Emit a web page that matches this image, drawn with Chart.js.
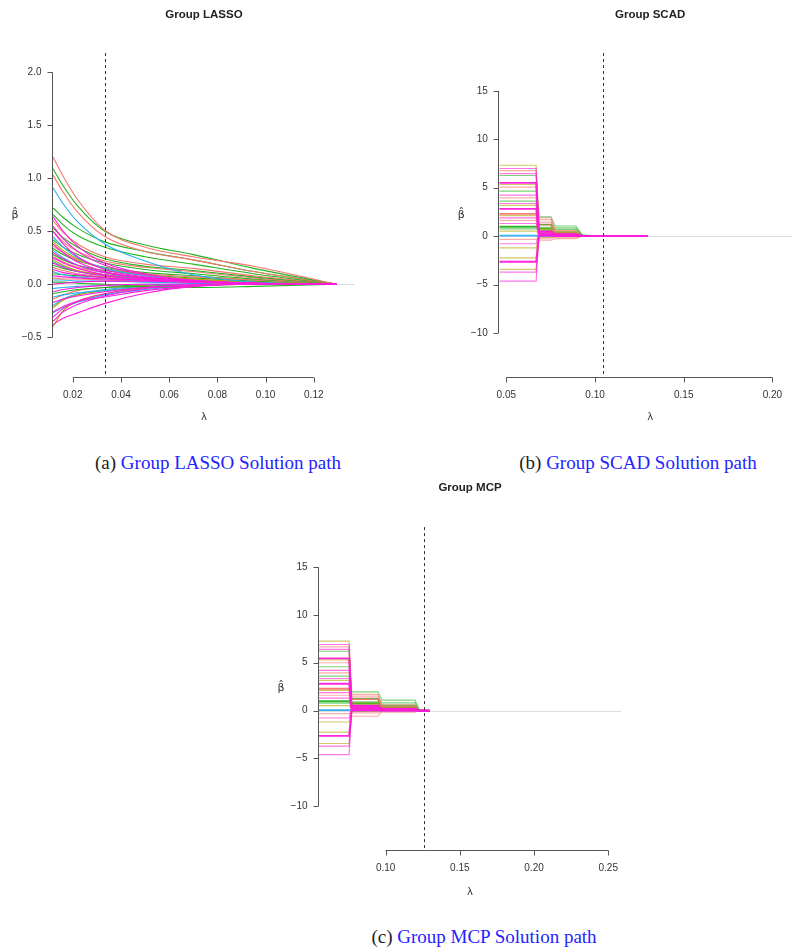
<!DOCTYPE html>
<html>
<head>
<meta charset="utf-8">
<script src="https://cdn.jsdelivr.net/npm/chart.js@4.4.1/dist/chart.umd.min.js"></script>
<style>
  body { margin: 0; background: #fff; width: 792px; height: 952px; position: relative; overflow: hidden; }
  .panel { position: absolute; overflow: hidden; }
  .cap { position: absolute; width: 320px; text-align: center; white-space: nowrap;
         font-family: 'Liberation Serif', 'DejaVu Serif', serif; font-size: 19px; line-height: 22px; color: #2323ff; }
  .cap span { color: #222; }
</style>
</head>
<body>
<div class="panel" style="left:0;top:0;width:396px;height:440px"><canvas id="lasso" width="396" height="440"></canvas></div>
<div class="panel" style="left:396px;top:0;width:396px;height:440px"><canvas id="scad" width="405" height="440"></canvas></div>
<div class="panel" style="left:230px;top:475px;width:420px;height:440px"><canvas id="mcp" width="420" height="440"></canvas></div>
<div class="cap" style="left:58px;top:452px"><span>(a)</span> Group LASSO Solution path</div>
<div class="cap" style="left:478px;top:452px"><span>(b)</span> Group SCAD Solution path</div>
<div class="cap" style="left:324px;top:926px"><span>(c)</span> Group MCP Solution path</div>
<script>
// line colours by group, upper case = strong line, lower case = faint line
var palette = { R: '#F8766D', O: '#B3A300', G: '#22B422', B: '#2AAEF2', M: '#FF1ADB' };

// ---- Group LASSO: coefficient values at these lambdas
var lassoLambda = [0.0118, 0.016, 0.022, 0.0333, 0.05, 0.07, 0.095, 0.1293];
var lassoPaths = [
  [1.20, 1.02, 0.80, 0.51, 0.35, 0.26, 0.17, 0],
  [1.09, 0.93, 0.74, 0.50, 0.37, 0.28, 0.15, 0],
  [1.03, 0.87, 0.68, 0.45, 0.31, 0.23, 0.12, 0],
  [0.91, 0.76, 0.59, 0.38, 0.22, 0.09, 0.02, 0],
  [0.72, 0.63, 0.53, 0.40, 0.31, 0.23, 0.12, 0],
  [0.66, 0.56, 0.46, 0.35, 0.26, 0.19, 0.10, 0],
  [0.60, 0.49, 0.38, 0.26, 0.19, 0.15, 0.08, 0],
  [0.64, 0.50, 0.36, 0.20, 0.10, 0.04, 0.01, 0],
  [0.55, 0.43, 0.31, 0.18, 0.09, 0.03, 0.01, 0],
  [0.53, 0.44, 0.35, 0.24, 0.17, 0.13, 0.07, 0],
  [0.50, 0.40, 0.31, 0.22, 0.16, 0.12, 0.06, 0],
  [0.50, 0.38, 0.26, 0.14, 0.07, 0.03, 0.01, 0],
  [0.45, 0.35, 0.25, 0.15, 0.08, 0.03, 0.01, 0],
  [0.42, 0.35, 0.28, 0.20, 0.14, 0.10, 0.05, 0],
  [0.40, 0.32, 0.24, 0.15, 0.09, 0.05, 0.02, 0],
  [0.38, 0.30, 0.21, 0.12, 0.06, 0.03, 0.01, 0],
  [0.36, 0.30, 0.23, 0.15, 0.10, 0.07, 0.04, 0],
  [0.34, 0.28, 0.22, 0.16, 0.11, 0.08, 0.04, 0],
  [0.32, 0.25, 0.18, 0.11, 0.06, 0.02, 0.01, 0],
  [0.30, 0.24, 0.18, 0.11, 0.06, 0.03, 0.01, 0],
  [0.28, 0.23, 0.18, 0.13, 0.09, 0.06, 0.03, 0],
  [0.26, 0.21, 0.16, 0.11, 0.07, 0.05, 0.02, 0],
  [0.25, 0.20, 0.15, 0.09, 0.05, 0.03, 0.01, 0],
  [0.23, 0.18, 0.13, 0.09, 0.05, 0.02, 0.01, 0],
  [0.21, 0.17, 0.12, 0.08, 0.04, 0.02, 0.01, 0],
  [0.20, 0.16, 0.12, 0.08, 0.05, 0.03, 0.01, 0],
  [0.18, 0.15, 0.12, 0.09, 0.06, 0.04, 0.02, 0],
  [0.16, 0.13, 0.10, 0.07, 0.04, 0.02, 0.01, 0],
  [0.14, 0.11, 0.09, 0.06, 0.04, 0.02, 0.01, 0],
  [0.12, 0.09, 0.07, 0.05, 0.03, 0.01, 0.00, 0],
  [0.10, 0.09, 0.08, 0.07, 0.05, 0.03, 0.01, 0],
  [0.08, 0.07, 0.06, 0.05, 0.04, 0.02, 0.01, 0],
  [0.06, 0.05, 0.05, 0.04, 0.03, 0.02, 0.01, 0],
  [0.04, 0.04, 0.03, 0.03, 0.02, 0.01, 0.00, 0],
  [0.02, 0.02, 0.01, 0.00, -0.02, -0.03, -0.02, 0],
  [0.00, 0.01, 0.02, 0.03, 0.03, 0.02, 0.01, 0],
  [-0.04, -0.03, -0.02, -0.01, 0.00, 0.00, 0.00, 0],
  [-0.07, -0.05, -0.03, -0.01, 0.00, 0.00, 0.00, 0],
  [-0.09, -0.07, -0.05, -0.03, -0.02, -0.01, 0.00, 0],
  [-0.12, -0.10, -0.08, -0.06, -0.03, -0.01, 0.00, 0],
  [-0.14, -0.10, -0.06, -0.03, -0.01, 0.00, 0.00, 0],
  [-0.17, -0.14, -0.11, -0.07, -0.03, -0.01, 0.00, 0],
  [-0.20, -0.14, -0.09, -0.05, -0.02, 0.00, 0.00, 0],
  [-0.22, -0.15, -0.10, -0.06, -0.03, -0.01, 0.00, 0],
  [-0.26, -0.21, -0.16, -0.12, -0.06, -0.02, 0.00, 0],
  [-0.27, -0.22, -0.17, -0.10, -0.05, -0.01, 0.00, 0],
  [-0.31, -0.23, -0.16, -0.09, -0.03, -0.01, 0.00, 0],
  [-0.38, -0.32, -0.27, -0.18, -0.085, -0.02, 0.00, 0],
  [-0.40, -0.25, -0.16, -0.09, -0.04, -0.01, 0.00, 0],
  [-0.35, -0.26, -0.19, -0.11, -0.04, -0.01, 0.00, 0]
];
var lassoColors = ['R','G','R','B','G','G','R','M','M','G','R','M','B','G','O','M','R','G','B','M',
                   'G','R','M','O','B','M','G','R','M','B','G','M','R','B','G','M','B','M','G','B',
                   'R','M','B','O','M','B','M','M','O','M'];
var lassoXTicks = [0.02, 0.04, 0.06, 0.08, 0.10, 0.12];
var lassoYTicks = [-0.5, 0, 0.5, 1.0, 1.5, 2.0];
var lassoCut = 0.0333;

// ---- Group SCAD: lambdas where each plateau starts / ends, and plateau levels
var scadKnots = [0.046, 0.0668, 0.0684, 0.0752, 0.0775, 0.0891, 0.0929, 0.100, 0.1296];
var scadLevels = [
  [7.32, 0.35, 0.15, 0.02], [6.98, 0.10, 0.05, 0], [6.77, 1.90, 0.60, 0.03], [6.46, 0.25, 0.10, 0],
  [6.26, 2.00, 1.05, 0.10], [5.50, 0.45, 0.20, 0.02], [5.33, 0.60, 0.30, 0.02], [5.06, 1.70, 0.40, 0.02],
  [4.65, 1.20, 0.85, 0.08], [4.23, 0.30, 0.10, 0], [3.96, 1.45, 0.25, 0.02], [3.61, 0.90, 0.70, 0.06],
  [3.37, 0.20, 0.05, 0], [3.17, 0.80, 0.45, 0.03], [2.82, 0.50, 0.15, 0], [2.30, 1.20, 0.10, 0],
  [2.13, 0.40, 0.20, 0.02], [1.89, 0.15, 0.05, 0], [1.62, -0.40, -0.25, 0], [1.31, 0.05, 0.02, 0],
  [0.97, 0.75, 0.35, 0.08], [0.76, 0.55, 0.50, 0.05], [0.52, 0.20, 0.10, 0], [0.05, 0.02, 0, 0],
  [-0.33, -0.20, -0.10, 0], [-0.78, 0.30, 0.10, 0], [-1.20, -0.10, -0.05, 0], [-2.23, 0.25, 0.10, 0],
  [-2.64, 0.10, 0, 0], [-3.43, -0.05, 0, 0], [-3.71, 0, 0, 0], [-4.64, 0.20, 0.05, 0]
];
var scadColors = ['o','m','r','m','g','M','o','r','g','m','r','g','m','o','M','R',
                  'o','m','r','m','G','g','o','B','r','m','o','o','M','o','m','m'];
var scadXTicks = [0.05, 0.10, 0.15, 0.20];
var scadYTicks = [-10, -5, 0, 5, 10, 15];
var scadCut = 0.1046;

// ---- Group MCP
var mcpKnots = [0.055, 0.0754, 0.0771, 0.0948, 0.0975, 0.1198, 0.1225, 0.1250, 0.1298];
var mcpLevels = [
  [7.26, 0.35, 0.15, 0.02], [6.91, 0.10, 0.05, 0], [6.67, 1.70, 0.60, 0.03], [6.40, 0.25, 0.10, 0],
  [6.20, 1.95, 1.08, 0.10], [5.45, 0.45, 0.20, 0.02], [5.30, 0.60, 0.30, 0.02], [5.00, 1.50, 0.40, 0.02],
  [4.58, 1.26, 0.80, 0.08], [4.20, 0.30, 0.10, 0], [3.95, 1.30, 0.25, 0.02], [3.60, 0.90, 0.56, 0.06],
  [3.35, 0.20, 0.05, 0], [3.15, 0.80, 0.45, 0.03], [2.80, 0.50, 0.15, 0], [2.28, 1.20, 0.10, 0],
  [2.10, 0.40, 0.20, 0.02], [1.88, 0.15, 0.05, 0], [1.60, -0.60, -0.17, 0], [1.30, 0.05, 0.02, 0],
  [0.97, 0.75, 0.38, 0.08], [0.78, 0.56, 0.50, 0.05], [0.52, 0.20, 0.10, 0], [0.05, 0.02, 0, 0],
  [-0.33, -0.24, -0.10, 0], [-0.78, 0.31, 0.10, 0], [-1.20, -0.10, -0.05, 0], [-2.25, 0.25, 0.10, 0],
  [-2.66, 0.03, 0, 0], [-3.45, -0.05, 0, 0], [-3.72, 0, 0, 0], [-4.62, 0.20, 0.05, 0]
];
var mcpColors = scadColors;
var mcpXTicks = [0.10, 0.15, 0.20, 0.25];
var mcpYTicks = [-10, -5, 0, 5, 10, 15];
var mcpCut = 0.1256;

Chart.defaults.font.family = "'Liberation Sans', Arial, sans-serif";
Chart.defaults.font.size = 10;
Chart.defaults.color = '#333';

function rgba(hex, a) {
  var n = parseInt(hex.slice(1), 16);
  return 'rgba(' + (n >> 16) + ',' + ((n >> 8) & 255) + ',' + (n & 255) + ',' + a + ')';
}
function minus(s) { return s.replace('-', '\u2212'); }

// R-like axes, zero line, cut-off line and beta-hat label
var rPlot = {
  id: 'rPlot',
  beforeDatasetsDraw: function (chart) {
    var ctx = chart.ctx, a = chart.chartArea;
    var y0 = Math.round(chart.scales.y.getPixelForValue(0)) + 0.5;
    ctx.save();
    ctx.strokeStyle = '#dedede';
    ctx.lineWidth = 1;
    ctx.beginPath(); ctx.moveTo(a.left, y0); ctx.lineTo(a.right, y0); ctx.stroke();
    ctx.restore();
  },
  afterDatasetsDraw: function (chart, args, opts) {
    var ctx = chart.ctx, a = chart.chartArea, sx = chart.scales.x, sy = chart.scales.y;
    ctx.save();
    // cut-off
    var xc = Math.round(sx.getPixelForValue(opts.cut)) + 0.5;
    ctx.strokeStyle = '#333';
    ctx.lineWidth = 1;
    ctx.setLineDash([3, 3]);
    ctx.beginPath(); ctx.moveTo(xc, a.top); ctx.lineTo(xc, a.bottom - 1); ctx.stroke();
    ctx.setLineDash([]);
    // axes
    ctx.strokeStyle = '#555';
    var xt = sx.ticks, yt = sy.ticks;
    var yb = Math.round(a.bottom) + 0.5, xl = Math.round(a.left) - 0.5;
    ctx.beginPath();
    ctx.moveTo(sx.getPixelForValue(xt[0].value), yb);
    ctx.lineTo(sx.getPixelForValue(xt[xt.length - 1].value), yb);
    xt.forEach(function (t) {
      var p = Math.round(sx.getPixelForValue(t.value)) + 0.5;
      ctx.moveTo(p, yb); ctx.lineTo(p, yb + 5);
    });
    ctx.moveTo(xl, sy.getPixelForValue(yt[0].value));
    ctx.lineTo(xl, sy.getPixelForValue(yt[yt.length - 1].value));
    yt.forEach(function (t) {
      var p = Math.round(sy.getPixelForValue(t.value)) + 0.5;
      ctx.moveTo(xl, p); ctx.lineTo(xl - 5, p);
    });
    ctx.stroke();
    // y label
    ctx.fillStyle = '#333';
    ctx.font = "11px 'DejaVu Sans'";
    ctx.textAlign = 'center';
    ctx.textBaseline = 'middle';
    ctx.fillText('\u03B2\u0302', a.left - 38, (a.top + a.bottom) / 2);
    ctx.restore();
  }
};

function lassoSets() {
  return lassoPaths.map(function (vals, i) {
    var c = lassoColors[i];
    return {
      data: vals.map(function (v, j) { return { x: lassoLambda[j], y: v }; }),
      borderColor: palette[c], borderWidth: 1.1,
      cubicInterpolationMode: 'monotone', order: c === 'M' ? 0 : 1
    };
  });
}

function stepSets(knots, levels, colors) {
  return levels.map(function (lv, i) {
    var c = colors[i], strong = c === c.toUpperCase();
    var ys = [lv[0], lv[0], lv[1], lv[1], lv[2], lv[2], lv[3], 0, 0];
    return {
      data: ys.map(function (v, j) { return { x: knots[j], y: v }; }),
      borderColor: rgba(palette[c.toUpperCase()], strong ? 0.95 : 0.6),
      borderWidth: strong ? 1.8 : 1.2,
      order: c.toUpperCase() === 'M' ? 0 : 1
    };
  });
}

function makeChart(id, p) {
  return new Chart(document.getElementById(id), {
    type: 'line',
    data: { datasets: p.sets },
    plugins: [rPlot],
    options: {
      responsive: false, animation: false, devicePixelRatio: 1,
      layout: { padding: { left: 0, right: p.padRight, top: 0, bottom: 0 } },
      elements: { point: { radius: 0 }, line: { tension: 0 } },
      plugins: {
        legend: { display: false }, tooltip: { enabled: false },
        title: { display: true, text: p.title, fullSize: false, color: '#222',
                 font: { size: 11.5, weight: 'bold' }, padding: { top: p.titleTop, bottom: p.titleBottom } },
        rPlot: { cut: p.cut }
      },
      scales: {
        x: {
          type: 'linear', min: p.xmin, max: p.xmax,
          grid: { display: false, drawTicks: false }, border: { display: false },
          afterBuildTicks: function (s) { s.ticks = p.xticks.map(function (v) { return { value: v }; }); },
          afterFit: function (s) { s.height = p.xHeight; },
          ticks: { padding: 12.5, autoSkip: false, maxRotation: 0, color: '#333',
                   callback: function (v) { return v.toFixed(2); } },
          title: { display: true, text: '\u03BB', color: '#333', font: { size: 11 }, padding: { top: 0, bottom: 16 } }
        },
        y: {
          type: 'linear', min: p.ymin, max: p.ymax,
          grid: { display: false, drawTicks: false }, border: { display: false },
          afterBuildTicks: function (s) { s.ticks = p.yticks.map(function (v) { return { value: v }; }); },
          afterFit: function (s) { s.width = p.yWidth; },
          ticks: { padding: 11.5, autoSkip: false, color: '#333',
                   callback: function (v) { return minus(p.yfmt(v)); } }
        }
      }
    }
  });
}

makeChart('lasso', {
  sets: lassoSets(), title: 'Group LASSO', cut: lassoCut,
  xmin: 0.0118, xmax: 0.1371, ymin: -0.872, ymax: 2.182,
  xticks: lassoXTicks, yticks: lassoYTicks,
  yfmt: function (v) { return v.toFixed(1); },
  padRight: 41, yWidth: 53, xHeight: 63.3, titleTop: 7.8, titleBottom: 31.4
});

makeChart('scad', {
  sets: stepSets(scadKnots, scadLevels, scadColors), title: 'Group SCAD', cut: scadCut,
  xmin: 0.04605, xmax: 0.2161, ymin: -14.5, ymax: 18.9,
  xticks: scadXTicks, yticks: scadYTicks,
  yfmt: function (v) { return String(v); },
  padRight: 0, yWidth: 103.3, xHeight: 63.3, titleTop: 7.8, titleBottom: 31.4
});

makeChart('mcp', {
  sets: stepSets(mcpKnots, mcpLevels, mcpColors), title: 'Group MCP', cut: mcpCut,
  xmin: 0.0551, xmax: 0.2586, ymin: -14.59, ymax: 19.19,
  xticks: mcpXTicks, yticks: mcpYTicks,
  yfmt: function (v) { return String(v); },
  padRight: 29, yWidth: 89, xHeight: 65, titleTop: 5.8, titleBottom: 32.5
});
</script>
</body>
</html>
